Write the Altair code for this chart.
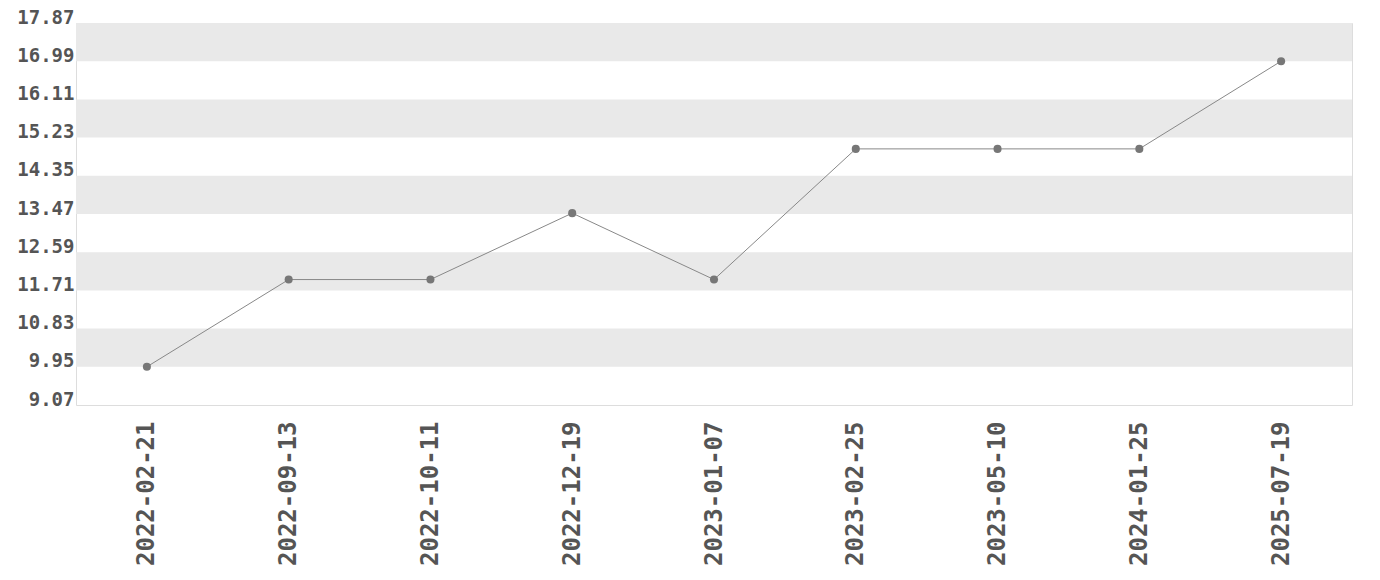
import altair as alt
import pandas as pd

dates = ["2022-02-21", "2022-09-13", "2022-10-11", "2022-12-19", "2023-01-07",
         "2023-02-25", "2023-05-10", "2024-01-25", "2025-07-19"]
values = [9.95, 11.96, 11.96, 13.49, 11.96, 14.97, 14.97, 14.97, 16.99]
ticks = [9.07, 9.95, 10.83, 11.71, 12.59, 13.47, 14.35, 15.23, 16.11, 16.99, 17.87]

df = pd.DataFrame({"date": dates, "value": values})

# alternating shaded bands between tick lines (from the top down)
band_rows = []
for i in range(len(ticks) - 1, 0, -2):
    band_rows.append({"lo": ticks[i - 1], "hi": ticks[i]})
bands = pd.DataFrame(band_rows)

FONT = "DejaVu Sans Mono"
yscale = alt.Scale(domain=[ticks[0], ticks[-1]], nice=False, zero=False)
yaxis = alt.Axis(title=None, values=ticks, format=".2f", labelFont=FONT,
                 labelFontSize=19, labelFontWeight="bold", labelColor="#555555",
                 ticks=False, domain=False, grid=False, labelPadding=2,
                 labelBaseline="alphabetic", labelOverlap=False, labelFlush=False,
                 labelBound=False)
xenc = alt.X("date:N", sort=None, scale=alt.Scale(type="point", padding=0.5),
             axis=alt.Axis(title=None, labelAngle=-90, labelFont=FONT, labelFontSize=24,
                           labelFontWeight="bold", labelColor="#555555", ticks=False,
                           domain=False, labelPadding=16, grid=False, labelOverlap=False))

band_layer = alt.Chart(bands).mark_rect(color="#e9e9e9").encode(
    y=alt.Y("lo:Q", scale=yscale, axis=yaxis),
    y2="hi:Q",
)

line_layer = alt.Chart(df).mark_line(color="#888888", strokeWidth=1).encode(
    x=xenc, y=alt.Y("value:Q", scale=yscale, axis=yaxis)
)
point_layer = alt.Chart(df).mark_circle(color="#777777", size=65, opacity=1).encode(
    x=xenc, y=alt.Y("value:Q", scale=yscale, axis=yaxis)
)

chart = alt.layer(band_layer, line_layer, point_layer).properties(
    width=1276, height=382,
    autosize=alt.AutoSizeParams(type="none"),
    padding={"left": 68, "top": 15, "right": 20, "bottom": 170},
).configure_view(stroke="#dddddd", strokeWidth=1).configure_axis(
    labelOverlap=False
).configure(background="white")

chart.save("out.html", embed_options={"renderer": "svg", "actions": False})
